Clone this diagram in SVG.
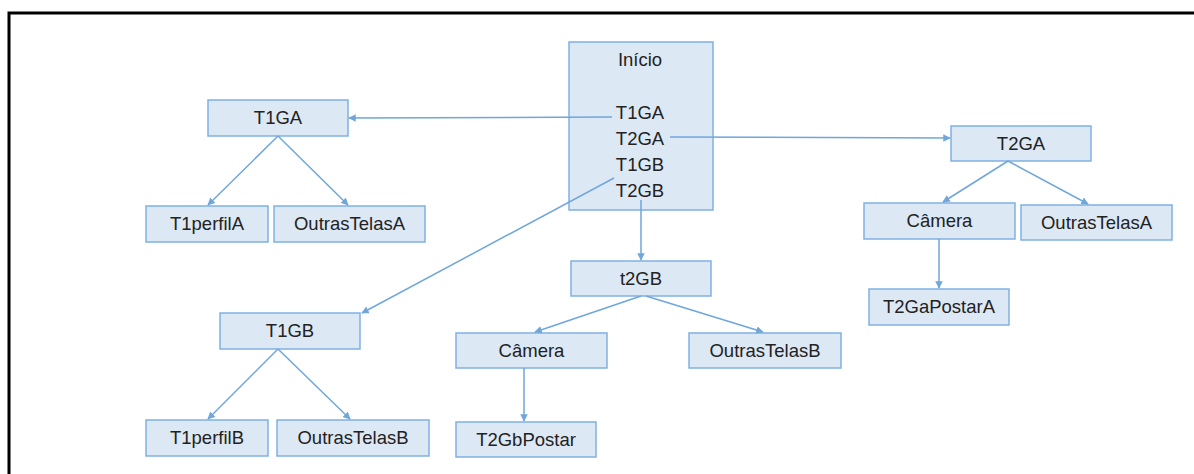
<svg xmlns="http://www.w3.org/2000/svg" width="1194" height="474" viewBox="0 0 1194 474">
  <style>
    .box { fill: #dde8f5; stroke: #7fb1e2; stroke-width: 1.5; }
    .lbl { font-family: "Liberation Sans", Arial, sans-serif; font-size: 18.5px; fill: #222222; text-anchor: middle; }
    .conn { stroke: #6fa6dc; stroke-width: 1.5; fill: none; marker-end: url(#arrow); }
  </style>
  <defs>
    <marker id="arrow" viewBox="0 0 10 10" refX="9" refY="5" markerWidth="5" markerHeight="5" orient="auto" markerUnits="strokeWidth">
      <path d="M0,0 L10,5 L0,10 z" fill="#6fa6dc"/>
    </marker>
  </defs>

  <rect width="1194" height="474" fill="#ffffff"/>
  <!-- outer frame -->
  <path d="M9,474 V13 H1194" fill="none" stroke="#000000" stroke-width="3"/>

  <g id="inicio">
    <rect class="box" x="569" y="42" width="144" height="168"/>
    <text class="lbl" x="640" y="66">Início</text>
    <text class="lbl" x="640" y="119">T1GA</text>
    <text class="lbl" x="640" y="145">T2GA</text>
    <text class="lbl" x="640" y="171">T1GB</text>
    <text class="lbl" x="640" y="197">T2GB</text>
  </g>

  <g id="t1ga">
    <rect class="box" x="208" y="100" width="140" height="36"/>
    <text class="lbl" x="278" y="124">T1GA</text>
  </g>
  <g id="t1perfilA">
    <rect class="box" x="146" y="206" width="122" height="36"/>
    <text class="lbl" x="207" y="230">T1perfilA</text>
  </g>
  <g id="outrasTelasA-1">
    <rect class="box" x="274" y="206" width="151" height="36"/>
    <text class="lbl" x="349.5" y="230">OutrasTelasA</text>
  </g>

  <g id="t2ga">
    <rect class="box" x="951" y="126" width="140" height="35"/>
    <text class="lbl" x="1021" y="150">T2GA</text>
  </g>
  <g id="camera-a">
    <rect class="box" x="864" y="203" width="151" height="36"/>
    <text class="lbl" x="939.5" y="227">Câmera</text>
  </g>
  <g id="outrasTelasA-2">
    <rect class="box" x="1021" y="205" width="151" height="35"/>
    <text class="lbl" x="1096.5" y="229">OutrasTelasA</text>
  </g>
  <g id="t2gaPostarA">
    <rect class="box" x="869" y="289" width="140" height="36"/>
    <text class="lbl" x="939" y="313">T2GaPostarA</text>
  </g>

  <g id="t1gb">
    <rect class="box" x="220" y="313" width="140" height="36"/>
    <text class="lbl" x="290" y="337">T1GB</text>
  </g>
  <g id="t1perfilB">
    <rect class="box" x="146" y="420" width="122" height="36"/>
    <text class="lbl" x="207" y="444">T1perfilB</text>
  </g>
  <g id="outrasTelasB-1">
    <rect class="box" x="277" y="420" width="152" height="36"/>
    <text class="lbl" x="353" y="444">OutrasTelasB</text>
  </g>

  <g id="t2gb">
    <rect class="box" x="571" y="261" width="140" height="35"/>
    <text class="lbl" x="641" y="285">t2GB</text>
  </g>
  <g id="camera-b">
    <rect class="box" x="456" y="333" width="151" height="35"/>
    <text class="lbl" x="531.5" y="357">Câmera</text>
  </g>
  <g id="outrasTelasB-2">
    <rect class="box" x="689" y="333" width="152" height="35"/>
    <text class="lbl" x="765" y="357">OutrasTelasB</text>
  </g>
  <g id="t2gbPostar">
    <rect class="box" x="456" y="422" width="140" height="35"/>
    <text class="lbl" x="526" y="446">T2GbPostar</text>
  </g>

  <g id="connectors">
    <line class="conn" x1="612" y1="117" x2="349" y2="118"/>
    <line class="conn" x1="670" y1="137" x2="950" y2="138"/>
    <line class="conn" x1="614" y1="178" x2="362" y2="313"/>
    <line class="conn" x1="641" y1="200" x2="641" y2="260"/>

    <line class="conn" x1="278" y1="136" x2="208" y2="205"/>
    <line class="conn" x1="278" y1="136" x2="348" y2="205"/>

    <line class="conn" x1="1008" y1="161" x2="943" y2="202"/>
    <line class="conn" x1="1008" y1="161" x2="1088" y2="204"/>
    <line class="conn" x1="939" y1="239" x2="939" y2="288"/>

    <line class="conn" x1="278" y1="349" x2="208" y2="419"/>
    <line class="conn" x1="278" y1="349" x2="350" y2="419"/>

    <line class="conn" x1="641" y1="296" x2="535" y2="332"/>
    <line class="conn" x1="646" y1="296" x2="763" y2="332"/>
    <line class="conn" x1="524" y1="368" x2="524" y2="421"/>
  </g>
</svg>
